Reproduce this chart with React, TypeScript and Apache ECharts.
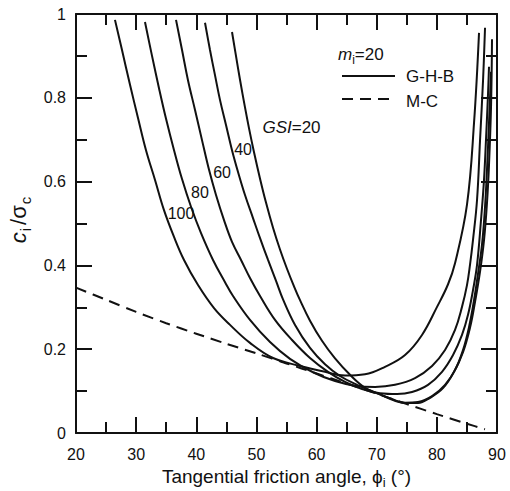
import React, { useEffect, useRef } from "react";
import * as echarts from "echarts";

const FONT = '"Liberation Sans", Arial, Helvetica, sans-serif';
const INK = "#111111";

// Axis ranges / ticks
const xRange = [20, 90];
const yRange = [0, 1];
const xStep = 10;
const yStep = 0.2;

// M-C (dashed) envelope
const mcX = [20, 25, 30, 35, 40, 45, 50, 55, 60, 65, 70, 75, 80, 85, 88];
const mcY = [0.347, 0.318, 0.289, 0.262, 0.237, 0.213, 0.19, 0.166, 0.142, 0.118, 0.094, 0.069, 0.045, 0.022, 0.009];

// G-H-B curves, GSI = 100, 80, 60, 40, 20
const gsi100X = [26.48, 27.65, 28.98, 30.31, 31.64, 33.14, 34.63, 36.3, 37.96, 40.29, 42.95, 45.61, 48.93, 52.76, 57.25, 61.4, 64.73, 68.05, 71.38, 74.71, 77.53, 80.03, 81.86, 83.02, 85.01, 86.18, 87.01];
const gsi100Y = [0.986, 0.914, 0.831, 0.752, 0.675, 0.604, 0.532, 0.468, 0.413, 0.353, 0.298, 0.258, 0.215, 0.179, 0.16, 0.146, 0.137, 0.14, 0.158, 0.186, 0.234, 0.301, 0.355, 0.405, 0.545, 0.74, 0.955];

const gsi80X = [31.47, 32.64, 33.8, 34.97, 36.3, 37.63, 39.12, 40.79, 42.78, 44.78, 46.11, 48.93, 52.26, 55.58, 59.41, 63.07, 66.39, 69.72, 73.04, 76.37, 79.2, 81.36, 83.02, 84.18, 85.01, 85.51, 86.01, 86.68, 87.18, 87.68, 88.01];
const gsi80Y = [0.981, 0.9, 0.823, 0.75, 0.675, 0.606, 0.54, 0.477, 0.413, 0.36, 0.327, 0.27, 0.217, 0.177, 0.145, 0.124, 0.113, 0.11, 0.115, 0.131, 0.16, 0.198, 0.246, 0.301, 0.353, 0.401, 0.461, 0.556, 0.699, 0.842, 0.967];

const gsi60X = [36.63, 37.63, 38.62, 39.79, 40.95, 42.12, 43.28, 44.61, 45.94, 47.44, 48.93, 50.6, 53.09, 55.92, 58.91, 61.9, 64.73, 67.56, 70.55, 73.38, 75.87, 78.53, 80.86, 82.69, 84.18, 85.18, 86.01, 86.68, 87.34, 87.84, 88.17, 88.51, 88.67];
const gsi60Y = [0.986, 0.914, 0.842, 0.771, 0.699, 0.628, 0.568, 0.508, 0.456, 0.413, 0.37, 0.327, 0.27, 0.222, 0.179, 0.146, 0.122, 0.105, 0.095, 0.093, 0.098, 0.115, 0.146, 0.186, 0.234, 0.282, 0.341, 0.401, 0.508, 0.604, 0.7, 0.81, 0.874];

const gsi40X = [41.45, 42.28, 43.11, 43.94, 44.94, 45.94, 46.94, 48.1, 49.43, 50.6, 51.93, 53.26, 54.42, 56.42, 58.91, 61.4, 63.9, 66.72, 69.72, 72.54, 74.71, 76.87, 79.2, 81.36, 83.02, 84.35, 85.35, 86.18, 86.84, 87.51, 88.01, 88.34, 88.67, 89.01];
const gsi40Y = [0.979, 0.914, 0.854, 0.795, 0.735, 0.675, 0.623, 0.568, 0.513, 0.465, 0.413, 0.363, 0.319, 0.258, 0.203, 0.164, 0.136, 0.115, 0.097, 0.081, 0.072, 0.074, 0.088, 0.115, 0.15, 0.198, 0.253, 0.317, 0.38, 0.45, 0.54, 0.63, 0.74, 0.862];

const gsi20X = [45.94, 46.6, 47.27, 48.1, 48.77, 49.6, 50.6, 51.59, 52.76, 53.92, 55.08, 56.25, 57.25, 58.91, 60.9, 63.07, 65.56, 68.05, 70.55, 73.04, 74.71, 76.87, 78.86, 81.02, 82.85, 84.35, 85.51, 86.35, 87.18, 87.84, 88.34, 88.67, 89.01, 89.17];
const gsi20Y = [0.957, 0.9, 0.843, 0.777, 0.727, 0.67, 0.607, 0.55, 0.49, 0.438, 0.392, 0.35, 0.317, 0.268, 0.22, 0.178, 0.139, 0.108, 0.092, 0.077, 0.0716, 0.0716, 0.084, 0.107, 0.146, 0.193, 0.251, 0.313, 0.385, 0.46, 0.55, 0.64, 0.78, 0.94];

const curveLabels = ["100", "80", "60", "40"];

const zip = (xs: number[], ys: number[]) => xs.map((x, i) => [x, ys[i]]);

const W = 510;
const H = 491;
const G = { left: 76, right: 13, top: 14, bottom: 58 };

const axisBase = {
  type: "value" as const,
  axisLine: { show: true, onZero: false, lineStyle: { color: INK, width: 2 } },
  axisTick: { show: true, inside: true, length: 16, lineStyle: { color: INK, width: 2 } },
  minorTick: { show: true, splitNumber: 2, length: 11, lineStyle: { color: INK, width: 2 } },
  splitLine: { show: false },
  minorSplitLine: { show: false },
};

export default function App() {
  const ref = useRef<HTMLDivElement>(null);

  useEffect(() => {
    if (!ref.current) return;
    const chart = echarts.init(ref.current, null, { renderer: "svg" });

    const solid = (name: string, xs: number[], ys: number[]) => ({
      type: "line",
      name,
      data: zip(xs, ys),
      showSymbol: false,
      symbol: "none",
      smooth: 0.4,
      lineStyle: { color: INK, width: 2 },
      silent: true,
      z: 3,
    });

    chart.setOption({
      animation: false,
      backgroundColor: "#ffffff",
      grid: { ...G, containLabel: false, outerBoundsMode: "none" },
      xAxis: [
        {
          ...axisBase,
          min: xRange[0],
          max: xRange[1],
          interval: xStep,
          position: "bottom",
          axisLabel: { fontSize: 16, color: INK, margin: 13, fontFamily: FONT },
          name: "{n|Tangential friction angle, }{g|ϕ}{s|i}{n| (°)}",
          nameLocation: "middle",
          nameGap: 28,
          nameTextStyle: {
            color: INK,
            fontFamily: FONT,
            rich: {
              n: { fontSize: 19, fontFamily: FONT, color: INK, lineHeight: 26 },
              g: { fontSize: 19, fontFamily: FONT, color: INK, lineHeight: 26 },
              s: { fontSize: 13, fontFamily: FONT, color: INK, lineHeight: 12, verticalAlign: "bottom" },
            },
          },
        },
        {
          ...axisBase,
          min: xRange[0],
          max: xRange[1],
          interval: xStep,
          position: "top",
          axisLabel: { show: false },
        },
      ],
      yAxis: [
        {
          ...axisBase,
          min: yRange[0],
          max: yRange[1],
          interval: yStep,
          position: "left",
          axisLabel: { fontSize: 16, color: INK, margin: 10, fontFamily: FONT },
          name: "{c|c}{s|i}{n|/σ}{s|c}",
          nameLocation: "middle",
          nameGap: 23,
          nameTextStyle: {
            color: INK,
            fontFamily: FONT,
            padding: [0, 0, 0, 8],
            rich: {
              c: { fontSize: 22, fontStyle: "italic", fontFamily: FONT, color: INK, lineHeight: 28, padding: [0, 1, 0, 0] },
              n: { fontSize: 22, fontFamily: FONT, color: INK, lineHeight: 28, padding: [0, 1, 0, 2] },
              s: { fontSize: 15, fontFamily: FONT, color: INK, lineHeight: 14, verticalAlign: "bottom", padding: [0, 1, 0, 0] },
            },
          },
        },
        {
          ...axisBase,
          min: yRange[0],
          max: yRange[1],
          interval: yStep,
          position: "right",
          axisLabel: { show: false },
        },
      ],
      series: [
        {
          type: "line",
          name: "M-C",
          data: zip(mcX, mcY),
          showSymbol: false,
          symbol: "none",
          smooth: 0.3,
          lineStyle: { color: INK, width: 2, type: [11, 7] },
          silent: true,
          z: 2,
        },
        solid("GSI=100", gsi100X, gsi100Y),
        solid("GSI=80", gsi80X, gsi80Y),
        solid("GSI=60", gsi60X, gsi60Y),
        solid("GSI=40", gsi40X, gsi40Y),
        solid("GSI=20", gsi20X, gsi20Y),
      ],
    });

    const toPx = (x: number, y: number) => chart.convertToPixel({ gridIndex: 0 }, [x, y]) as number[];

    // Curve labels anchored in data coordinates
    const labelAt = [
      [37.46, 0.523],
      [40.62, 0.575],
      [44.28, 0.622],
      [47.77, 0.676],
    ];
    const curveTexts = curveLabels.map((t, i) => {
      const p = toPx(labelAt[i][0], labelAt[i][1]);
      return {
        type: "text",
        x: p[0],
        y: p[1],
        z: 10,
        style: { text: t, fontSize: 16, fontFamily: FONT, fill: INK, align: "center", verticalAlign: "middle" },
      };
    });
    const gsiP = toPx(51.0, 0.73);

    chart.setOption({
      graphic: [
        ...curveTexts,
        {
          type: "text",
          x: gsiP[0],
          y: gsiP[1],
          z: 10,
          style: {
            text: "{it|GSI}{n|=20}",
            align: "left",
            verticalAlign: "middle",
            rich: {
              it: { fontSize: 17, fontStyle: "italic", fontFamily: FONT, fill: INK },
              n: { fontSize: 17, fontFamily: FONT, fill: INK },
            },
          },
        },
        {
          type: "text",
          x: 338,
          y: 54,
          z: 10,
          style: {
            text: "{m|m}{s|i}{n|=20}",
            align: "left",
            verticalAlign: "middle",
            rich: {
              m: { fontSize: 17, fontStyle: "italic", fontFamily: FONT, fill: INK, lineHeight: 24 },
              s: { fontSize: 12, fontFamily: FONT, fill: INK, lineHeight: 12, verticalAlign: "bottom" },
              n: { fontSize: 17, fontFamily: FONT, fill: INK, lineHeight: 24 },
            },
          },
        },
        {
          type: "line",
          z: 10,
          shape: { x1: 342, y1: 76, x2: 395, y2: 76 },
          style: { stroke: INK, lineWidth: 2 },
        },
        {
          type: "text",
          x: 406,
          y: 76,
          z: 10,
          style: { text: "G-H-B", fontSize: 17, fontFamily: FONT, fill: INK, align: "left", verticalAlign: "middle" },
        },
        {
          type: "line",
          z: 10,
          shape: { x1: 342, y1: 99, x2: 393, y2: 99 },
          style: { stroke: INK, lineWidth: 2, lineDash: [11, 7] },
        },
        {
          type: "text",
          x: 406,
          y: 101,
          z: 10,
          style: { text: "M-C", fontSize: 17, fontFamily: FONT, fill: INK, align: "left", verticalAlign: "middle" },
        },
      ],
    });

    return () => chart.dispose();
  }, []);

  return <div ref={ref} style={{ position: "fixed", left: 0, top: 0, width: W, height: H, background: "#fff" }} />;
}
